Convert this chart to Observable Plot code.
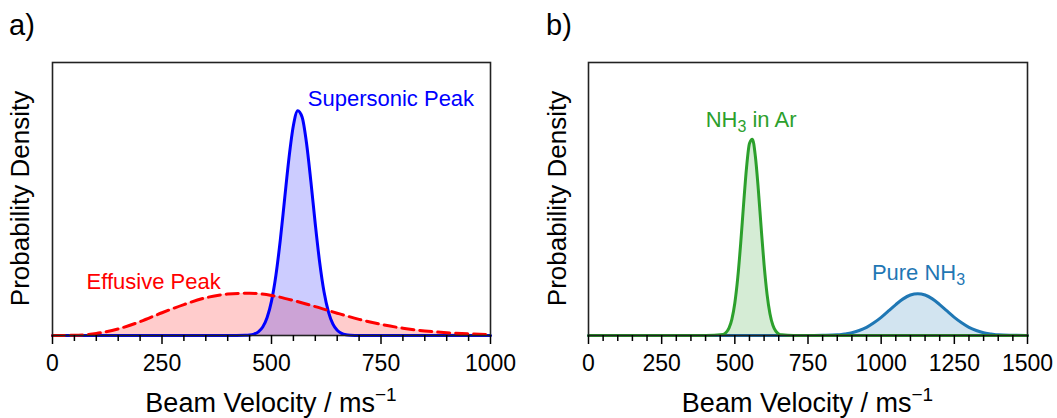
<!DOCTYPE html>
<html>
<head>
<meta charset="utf-8">
<script src="https://cdn.jsdelivr.net/npm/d3@7"></script>
<script src="https://cdn.jsdelivr.net/npm/@observablehq/plot@0.6"></script>
<style>
  html, body { margin: 0; padding: 0; background: #fff; }
  #wrap { display: flex; width: 1057px; height: 418px; overflow: hidden; }
  svg { display: block; }
</style>
</head>
<body>
<div id="wrap"></div>
<script>
// ---------- data ----------
// Panel a): supersonic peak (blue, solid)
const superV = [0, 400, 440, 450, 460, 470, 480, 490, 500, 510, 520, 530, 540, 550, 560, 570, 580, 590, 600, 610, 620, 630, 640, 650, 660, 670, 680, 700, 1000];
const superD = [0, 0, 0.001, 0.002, 0.006, 0.016, 0.037, 0.079, 0.151, 0.264, 0.418, 0.601, 0.782, 0.923, 0.988, 0.959, 0.845, 0.675, 0.489, 0.321, 0.191, 0.104, 0.051, 0.023, 0.009, 0.003, 0.001, 0, 0];
// Panel a): effusive peak (red, dashed)
const effV = [0, 50, 100, 150, 200, 250, 300, 350, 400, 450, 500, 550, 600, 650, 700, 750, 800, 850, 900, 950, 1000];
const effD = [0, 0.001, 0.009, 0.029, 0.061, 0.100, 0.136, 0.166, 0.182, 0.186, 0.176, 0.154, 0.127, 0.098, 0.071, 0.049, 0.032, 0.020, 0.012, 0.007, 0.004];
// Panel b): NH3 in Ar (green)
const arV = [0, 400, 460, 470, 480, 490, 500, 510, 520, 530, 540, 550, 560, 570, 580, 590, 600, 610, 620, 630, 640, 650, 660, 700, 1500];
const arD = [0, 0, 0.005, 0.013, 0.032, 0.072, 0.143, 0.254, 0.405, 0.578, 0.738, 0.844, 0.863, 0.789, 0.646, 0.473, 0.310, 0.182, 0.096, 0.045, 0.019, 0.007, 0.003, 0, 0];
// Panel b): pure NH3 (blue)
const pureV = [0, 750, 800, 850, 875, 900, 925, 950, 975, 1000, 1025, 1050, 1075, 1100, 1125, 1150, 1175, 1200, 1225, 1250, 1275, 1300, 1325, 1350, 1375, 1400, 1450, 1500];
const pureD = [0, 0, 0.001, 0.003, 0.007, 0.012, 0.022, 0.036, 0.056, 0.080, 0.108, 0.136, 0.161, 0.178, 0.184, 0.178, 0.161, 0.136, 0.108, 0.080, 0.056, 0.036, 0.022, 0.012, 0.007, 0.003, 0.001, 0];

// ticks
const leftMajor = [0, 250, 500, 750, 1000];
const leftMinor = [50, 100, 150, 200, 300, 350, 400, 450, 550, 600, 650, 700, 800, 850, 900, 950];
const rightMajor = [0, 250, 500, 750, 1000, 1250, 1500];
const rightMinor = [50, 100, 150, 200, 300, 350, 400, 450, 550, 600, 650, 700, 800, 850, 900, 950, 1050, 1100, 1150, 1200, 1300, 1350, 1400, 1450];

// text
const panelLabels = ["a)", "b)"];
const xLabelMain = "Beam Velocity / ms";
const xLabelSup = "\u22121";
const yLabel = "Probability Density";

// ---------- helpers ----------
const FONT = "'Liberation Sans', Arial, Helvetica, sans-serif";
const toRows = (V, D) => V.map((v, i) => ({v, d: D[i]}));

function panel({width, marginLeft, marginRight, xmax, major, minor, marks}) {
  return Plot.plot({
    width, height: 418,
    marginLeft, marginRight, marginTop: 62, marginBottom: 83,
    x: {domain: [0, xmax]},
    y: {domain: [0, 1.2], axis: null},
    style: {fontFamily: FONT, background: "white", color: "#000", overflow: "visible"},
    marks: [
      ...marks,
      Plot.frame({stroke: "#222", strokeWidth: 1.6}),
      Plot.axisX(minor, {tickSize: 6, tickFormat: () => "", strokeWidth: 1.5, label: null}),
      Plot.axisX(major, {tickSize: 9, tickPadding: 10, fontSize: 23, tickFormat: d => String(d), strokeWidth: 1.5, label: null})
    ]
  });
}

function addText(svg, x, y, parts, opts = {}) {
  const t = svg.append("text")
    .attr("x", x).attr("y", y)
    .attr("font-family", FONT)
    .attr("font-size", opts.size || 22)
    .attr("fill", opts.fill || "#000")
    .attr("text-anchor", opts.anchor || "start");
  if (opts.transform) t.attr("transform", opts.transform);
  for (const p of parts) {
    const s = t.append("tspan").text(p.text);
    if (p.size) s.attr("font-size", p.size);
    if (p.dy) s.attr("dy", p.dy);
  }
  return t;
}

function decorate(chart, {label, labelX, yLabelX, annotations}) {
  const svg = d3.select(chart);
  const sx = chart.scale("x"), sy = chart.scale("y");
  const [r0, r1] = sx.range;
  const [b, t] = sy.range;
  // panel label
  addText(svg, labelX, 35, [{text: label}], {size: 29});
  // x label
  addText(svg, (r0 + r1) / 2, 412, [{text: xLabelMain}, {text: xLabelSup, size: 19, dy: -11}], {size: 27, anchor: "middle"});
  // y label
  addText(svg, 0, 0, [{text: yLabel}], {size: 26, anchor: "middle",
    transform: `translate(${yLabelX},${(b + t) / 2}) rotate(-90)`});
  // annotations
  for (const a of annotations) {
    addText(svg, sx.apply(a.x), sy.apply(a.y), a.parts, {size: a.size, fill: a.fill});
  }
}

// ---------- panel a ----------
const sup = toRows(superV, superD);
const eff = toRows(effV, effD);
const left = panel({
  width: 528, marginLeft: 52, marginRight: 38, xmax: 1000,
  major: leftMajor, minor: leftMinor,
  marks: [
    Plot.areaY(eff, {x: "v", y: "d", fill: "#ff0000", fillOpacity: 0.2, curve: "monotone-x"}),
    Plot.areaY(sup, {x: "v", y: "d", fill: "#0000ff", fillOpacity: 0.2, curve: "monotone-x"}),
    Plot.lineY(sup, {x: "v", y: "d", stroke: "#0000ff", strokeWidth: 3, curve: "monotone-x"}),
    Plot.lineY(eff, {x: "v", y: "d", stroke: "#ff0000", strokeWidth: 3, strokeDasharray: "12,6", curve: "monotone-x"})
  ]
});
decorate(left, {
  label: panelLabels[0], labelX: 9, yLabelX: 29,
  annotations: [
    {x: 584, y: 1.005, parts: [{text: "Supersonic Peak"}], fill: "#0000ff", size: 22},
    {x: 79, y: 0.202, parts: [{text: "Effusive Peak"}], fill: "#ff0000", size: 22}
  ]
});

// ---------- panel b ----------
const ar = toRows(arV, arD);
const pure = toRows(pureV, pureD);
const right = panel({
  width: 529, marginLeft: 60, marginRight: 30, xmax: 1500,
  major: rightMajor, minor: rightMinor,
  marks: [
    Plot.areaY(ar, {x: "v", y: "d", fill: "#2ca02c", fillOpacity: 0.2, curve: "monotone-x"}),
    Plot.areaY(pure, {x: "v", y: "d", fill: "#1f77b4", fillOpacity: 0.2, curve: "monotone-x"}),
    Plot.lineY(pure, {x: "v", y: "d", stroke: "#1f77b4", strokeWidth: 3, curve: "monotone-x"}),
    Plot.lineY(ar, {x: "v", y: "d", stroke: "#2ca02c", strokeWidth: 3, curve: "monotone-x"})
  ]
});
decorate(right, {
  label: panelLabels[1], labelX: 18, yLabelX: 38,
  annotations: [
    {x: 402, y: 0.915, parts: [{text: "NH"}, {text: "3", size: 16, dy: 5}, {text: " in Ar", dy: -5}], fill: "#2ca02c", size: 22},
    {x: 970, y: 0.2415, parts: [{text: "Pure NH"}, {text: "3", size: 16, dy: 5}], fill: "#1f77b4", size: 22}
  ]
});

const wrap = document.getElementById("wrap");
wrap.appendChild(left);
wrap.appendChild(right);
</script>
</body>
</html>
